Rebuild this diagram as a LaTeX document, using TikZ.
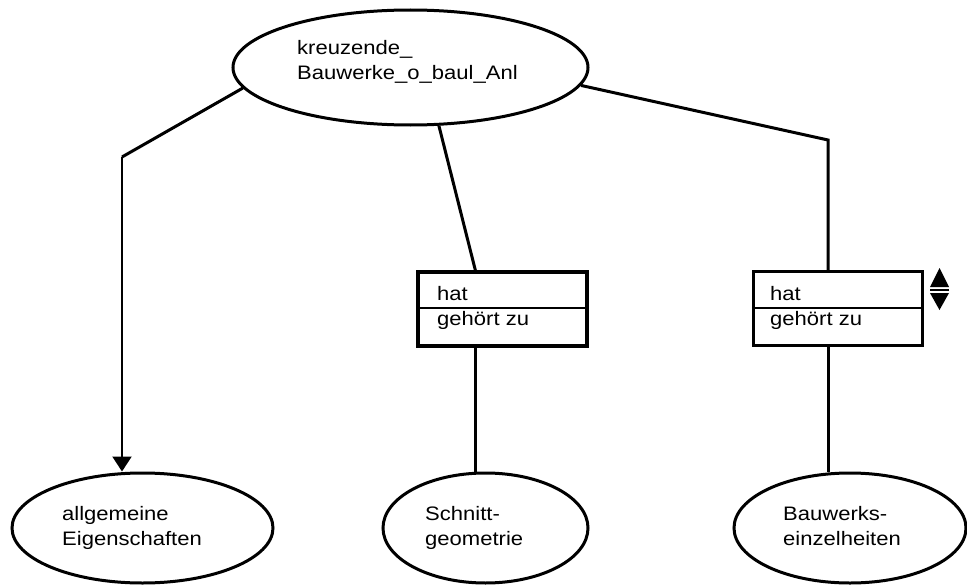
\documentclass[tikz,border=0pt]{standalone}
\usepackage{fontspec}
\setmainfont{Liberation Sans}[FakeStretch=1.13]
\usetikzlibrary{shapes.geometric,arrows.meta,calc}
\begin{document}
\begin{tikzpicture}[x=1pt,y=-1pt,
  ent/.style={draw, ellipse, line width=3pt, inner sep=0pt},
  rel/.style={draw, rectangle, line width=3.2pt, inner sep=0pt, minimum width=169pt, minimum height=74pt},
  lbl/.style={anchor=base west, inner sep=0pt, font=\fontsize{19.5}{25}\selectfont},
  conn/.style={line width=3pt},
  divider/.style={line width=1.4pt}]
\useasboundingbox (0,0) rectangle (967,586);
% entities
\node[ent, minimum width=355pt, minimum height=115pt] (top) at (410.5,67.5) {};
\node[ent, minimum width=261pt, minimum height=110pt] (ent1) at (142.5,528) {};
\node[ent, minimum width=205pt, minimum height=110pt] (ent2) at (485.5,528) {};
\node[ent, minimum width=232pt, minimum height=110pt] (ent3) at (850,528) {};
% relation boxes
\node[rel] (box1) at (502.5,309) {};
\node[rel] (box2) at (838,308.5) {};
\draw[divider] ($(box1.west)+(0,-1)$) -- ($(box1.east)+(0,-1)$);
\draw[divider] ($(box2.west)+(0,-0.5)$) -- ($(box2.east)+(0,-0.5)$);
% labels
\node[lbl] (t1) at (297,55) {kreuzende\_};
\node[lbl] (t2) at (297,80) {Bauwerke\_o\_baul\_Anl};
\node[lbl] (b1a) at (437,300) {hat};
\node[lbl] (b1b) at (437,325) {gehört zu};
\node[lbl] (b2a) at (770,300) {hat};
\node[lbl] (b2b) at (770,325) {gehört zu};
\node[lbl] (e1a) at (62,520) {allgemeine};
\node[lbl] (e1b) at (62,545) {Eigenschaften};
\node[lbl] (e2a) at (425,520) {Schnitt-};
\node[lbl] (e2b) at (425,545) {geometrie};
\node[lbl] (e3a) at (783,520) {Bauwerks-};
\node[lbl] (e3b) at (783,545) {einzelheiten};
% connectors
\coordinate (lk) at (122,157);
\coordinate (rk) at (828,140);
\coordinate (b1t) at ($(box1.north west)+(59,0)$);
\coordinate (b1b) at ($(box1.south west)+(59,0)$);
\draw[conn] (top.187) -- (lk);
\draw[line width=2.2pt, -{Triangle[width=19pt,length=15pt]}] (lk) -- (lk |- ent1.north);
\draw[conn] (top.-64) -- (b1t);
\draw[conn] (b1b) -- (b1b |- ent2.north);
\draw[conn] (top.-6.7) -- (rk) -- (rk |- box2.north);
\draw[conn] (rk |- box2.south) -- (rk |- ent3.north);
% sort symbol
\fill (930,287) -- (939.5,268) -- (949,287) -- cycle;
\fill (930,293) -- (939.5,310) -- (949,293) -- cycle;
\draw[line width=1.5pt] (930,290) -- (949,290);
\end{tikzpicture}
\end{document}
